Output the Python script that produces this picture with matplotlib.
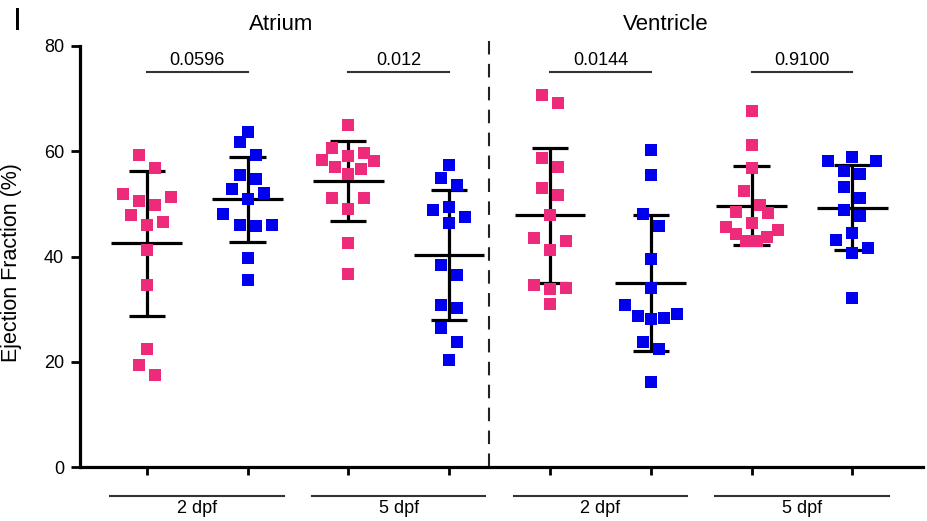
import numpy as np
import matplotlib
matplotlib.use("Agg")
import matplotlib.pyplot as plt

plt.rcParams['font.family'] = ['Liberation Sans', 'DejaVu Sans']

# ---------------- data ----------------
chambers = ["Atrium", "Ventricle"]
stages = ["2 dpf", "5 dpf", "2 dpf", "5 dpf"]
p_values = ["0.0596", "0.012", "0.0144", "0.9100"]

atrium_2dpf_pink = [59.2, 56.8, 51.8, 51.4, 50.5, 49.8, 47.9, 46.6, 45.9, 41.2, 34.5, 22.5, 19.4, 17.4]
atrium_2dpf_blue = [63.7, 61.8, 59.3, 54.7, 55.4, 52.1, 52.8, 50.9, 48.1, 46.0, 45.8, 45.9, 39.8, 35.5]
atrium_5dpf_pink = [65.0, 60.7, 59.7, 59.1, 58.2, 58.3, 56.6, 57.1, 55.6, 51.2, 51.2, 49.0, 42.5, 36.7]
atrium_5dpf_blue = [57.4, 54.9, 53.5, 48.8, 49.4, 47.5, 46.3, 38.3, 36.5, 30.2, 30.8, 26.4, 23.8, 20.3]
ventricle_2dpf_pink = [70.6, 69.2, 58.8, 57.1, 53.1, 51.6, 47.8, 43.6, 43.0, 41.2, 34.0, 34.5, 33.8, 30.9]
ventricle_2dpf_blue = [60.2, 55.4, 48.0, 45.8, 39.5, 34.0, 30.8, 28.7, 28.1, 28.4, 29.1, 23.8, 22.4, 16.1]
ventricle_5dpf_pink = [67.7, 61.2, 56.8, 52.4, 49.8, 48.2, 48.5, 46.3, 45.0, 45.7, 43.8, 44.3, 42.9, 42.9]
ventricle_5dpf_blue = [58.1, 59.0, 58.1, 56.2, 55.7, 53.3, 51.1, 48.8, 47.7, 44.5, 43.1, 41.7, 40.6, 32.2]

series = [atrium_2dpf_pink, atrium_2dpf_blue, atrium_5dpf_pink, atrium_5dpf_blue,
          ventricle_2dpf_pink, ventricle_2dpf_blue, ventricle_5dpf_pink, ventricle_5dpf_blue]

PINK = "#EE2A7B"
BLUE = "#0000EE"
colors = [PINK, BLUE] * 4


def swarm_offsets(vals, h=2.85, step=0.159, maxw=0.516):
    vals = np.asarray(vals, dtype=float)
    order = np.argsort(vals, kind="stable")
    rows, cur = [], []
    for idx in order:
        if cur and vals[idx] - vals[cur[0]] > h:
            rows.append(cur)
            cur = []
        cur.append(idx)
    rows.append(cur)
    off = np.zeros(len(vals))
    for row in rows:
        n = len(row)
        s = step if n <= 1 else min(step, maxw / (n - 1))
        slots = (np.arange(n) - (n - 1) / 2) * s
        slots = sorted(slots, key=lambda v: (round(abs(v), 6), -v))
        for idx, sl in zip(row, slots):
            off[idx] = sl
    return off


# ---------------- figure ----------------
W, H = 928, 521
fig = plt.figure(figsize=(W / 100, H / 100), dpi=100)
ax = fig.add_axes([80 / W, (H - 467) / H, (923 - 80) / W, (467 - 46) / H])

positions = np.arange(1, len(series) + 1)
for pos, vals, col in zip(positions, series, colors):
    vals = np.asarray(vals)
    off = swarm_offsets(vals)
    m = vals.mean()
    sd = vals.std(ddof=1)
    ax.hlines(m, pos - 0.35, pos + 0.35, color="black", lw=2.3, zorder=2)
    ax.hlines([m - sd, m + sd], pos - 0.18, pos + 0.18, color="black", lw=2.3, zorder=2)
    ax.vlines(pos, m - sd, m + sd, color="black", lw=2.3, zorder=2)
    ax.scatter(pos + off, vals, marker="s", s=66, color=col, linewidths=0, zorder=3)

ax.set_xlim(0.338, 8.701)
ax.set_ylim(0, 80)
ax.set_yticks([0, 20, 40, 60, 80])
ax.set_xticks(positions)
ax.set_xticklabels([])
for s in ["top", "right"]:
    ax.spines[s].set_visible(False)
for s in ["left", "bottom"]:
    ax.spines[s].set_linewidth(2.3)
ax.tick_params(axis="y", direction="out", length=6.5, width=2.0, labelsize=13, pad=5)
ax.tick_params(axis="x", direction="out", length=5.5, width=2.0)
ax.set_ylabel("Ejection Fraction (%)", fontsize=15.5)
ax.yaxis.set_label_coords(-0.069, 0.485)

# separator between chambers
ax.plot([4.396, 4.396], [0, 81.7], ls=(0, (6.5, 4.5)), color="#222222", lw=1.5,
        clip_on=False, zorder=1)

# p-value brackets
for i, p in enumerate(p_values):
    a, b = positions[2 * i], positions[2 * i + 1]
    ax.plot([a, b], [75.1, 75.1], color="#333333", lw=1.5, clip_on=False)
    ax.text((a + b) / 2, 76.3, p, ha="center", va="baseline", fontsize=13, clip_on=False)

# chamber titles
ax.text(2.33, 84.0, chambers[0], ha="center", va="center", fontsize=16, clip_on=False)
ax.text(6.15, 84.0, chambers[1], ha="center", va="center", fontsize=16, clip_on=False)

# stage labels under the axis
for i, st in enumerate(stages):
    c = (positions[2 * i] + positions[2 * i + 1]) / 2
    ax.plot([c - 0.86, c + 0.86], [-5.5, -5.5], color="#333333", lw=1.5, clip_on=False)
    ax.text(c, -7.9, st, ha="center", va="center", fontsize=13, clip_on=False)

fig.text(13 / W, (H - 21.5) / H, "I", ha="left", va="center", fontsize=23)

fig.savefig("out.png", dpi=100)
